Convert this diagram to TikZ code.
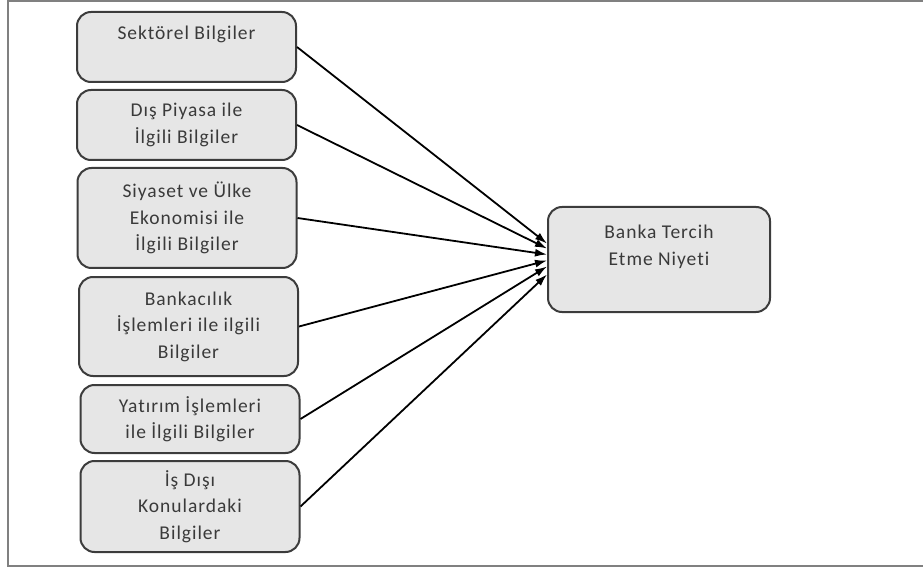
\documentclass[tikz,border=0pt]{standalone}
\usepackage{fontspec}
\setmainfont{Carlito}[LetterSpace=5, Ligatures=NoCommon]
\usetikzlibrary{arrows.meta, calc}

\definecolor{boxfill}{HTML}{E6E6E6}
\definecolor{boxline}{HTML}{3C3C3C}
\definecolor{txtgray}{HTML}{3A3A3A}

\tikzset{
  infobox/.style={draw=boxline, line width=2pt, fill=boxfill, rounded corners=14pt,
    minimum width=219pt, align=center, text=txtgray, font=\fontsize{19.5}{26.5}\selectfont},
  link/.style={-{Latex[length=12pt,width=8pt]}, line width=1.8pt, black}
}

\begin{document}
\begin{tikzpicture}[x=1pt, y=-1pt]
    \clip (0,0) rectangle (923,569);
    \useasboundingbox (0,0) rectangle (923,569);

    % The frame
    \draw[gray, line width=2pt] (8,1) rectangle (940,566);

    % Information sources
    \node[infobox, minimum height=70pt] (s1) at (186.5,47) {Sektörel Bilgiler\\[2pt]\mbox{}};
    \node[infobox, minimum height=70pt] (s2) at (186.5,125) {Dış Piyasa ile\\İlgili Bilgiler};
    \node[infobox, minimum height=100pt] (s3) at (187,218) {Siyaset ve Ülke\\Ekonomisi ile\\İlgili Bilgiler};
    \node[infobox, minimum height=99pt] (s4) at (188.5,326.5) {Bankacılık\\İşlemleri ile ilgili\\Bilgiler};
    \node[infobox, minimum height=68pt] (s5) at (190,419) {Yatırım İşlemleri\\ile İlgili Bilgiler};
    \node[infobox, minimum height=91pt] (s6) at (190,506.5) {İş Dışı\\Konulardaki\\Bilgiler};

    % Intention
    \node[infobox, minimum width=222pt, minimum height=105pt] (tgt) at (659,259.5) {Banka Tercih\\Etme Niyeti\\[2pt]\mbox{}};

    % Arrow ends on the target
    \foreach \i/\dy in {1/-16, 2/-11, 3/-5, 4/1, 5/7, 6/15} {
        \coordinate (in\i) at ($(tgt.west)+(0,\dy)$);
        \draw[link] (s\i.east) -- (in\i);
    }
\end{tikzpicture}
\end{document}
